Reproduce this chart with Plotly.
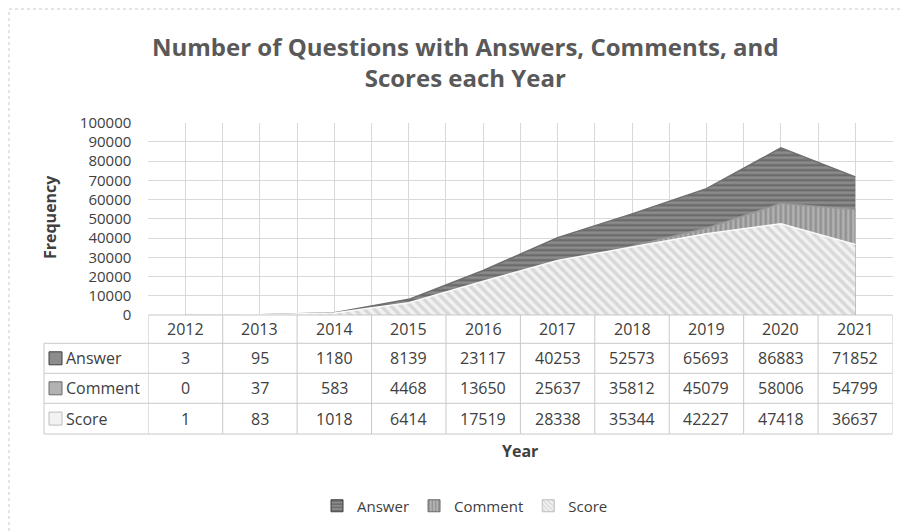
import plotly.graph_objects as go

years = ["2012", "2013", "2014", "2015", "2016", "2017", "2018", "2019", "2020", "2021"]
answer = [3, 95, 1180, 8139, 23117, 40253, 52573, 65693, 86883, 71852]
comment = [0, 37, 583, 4468, 13650, 25637, 35812, 45079, 58006, 54799]
score = [1, 83, 1018, 6414, 17519, 28338, 35344, 42227, 47418, 36637]

# name, values, pattern shape, background, stripe colour, edge colour, pattern size, solidity
series = [
    ("Answer", answer, "-", "#8c8c8c", "#3f3f3f", "#6e6e6e", 5, 0.42),
    ("Comment", comment, "|", "#b2b2b2", "#6a6a6a", "#999999", 5, 0.45),
    ("Score", score, "\\", "#f2f2f2", "#bdbdbd", "#fafafa", 7, 0.5),
]

W, H = 903, 531
FONT = "Open Sans"
TXT = "#404040"
GRID = "#d9d9d9"
LINE = "#c8c8c8"


def px_x(v):
    return v / W


def px_y(v):
    return 1 - v / H


plot_left, plot_right = 148.3, 892.5
plot_top, plot_bottom = 122.7, 315.0
row_lines = [343.3, 373.3, 403.3, 434.0]
row_centers = [358.3, 388.3, 418.6]
xs = list(range(len(years)))

fig = go.Figure()
for name, vals, shape, bg, fg, edge, psize, solid in series:
    fig.add_trace(
        go.Scatter(
            x=xs,
            y=vals,
            name=name,
            mode="lines",
            fill="tozeroy",
            line=dict(color=edge, width=1.5),
            fillcolor=bg,
            fillpattern=dict(shape=shape, bgcolor=bg, fgcolor=fg, size=psize, solidity=solid),
            hoverinfo="x+y+name",
            showlegend=False,
        )
    )
# legend keys: square patterned swatches like the spreadsheet legend
for name, vals, shape, bg, fg, edge, psize, solid in series:
    fig.add_trace(
        go.Bar(
            x=[None],
            y=[None],
            name=name,
            marker=dict(color=bg, line=dict(color=fg, width=1),
                        pattern=dict(shape=shape, bgcolor=bg, fgcolor=fg, size=4, solidity=0.4)),
        )
    )

shapes = []
# outer chart border (only top/left edges are inside the picture)
shapes.append(dict(type="rect", xref="paper", yref="paper", x0=px_x(9), x1=px_x(960),
                   y0=px_y(600), y1=px_y(9), line=dict(color=LINE, width=1, dash="dot")))
# data table grid
for yl in row_lines:
    shapes.append(dict(type="line", xref="paper", yref="paper", x0=px_x(44), x1=px_x(plot_right),
                       y0=px_y(yl), y1=px_y(yl), line=dict(color=LINE, width=1)))
shapes.append(dict(type="line", xref="paper", yref="paper", x0=px_x(44), x1=px_x(44),
                   y0=px_y(row_lines[0]), y1=px_y(row_lines[-1]), line=dict(color=LINE, width=1)))
for i in range(len(years) + 1):
    shapes.append(dict(type="line", xref="x", yref="paper", x0=i - 0.5, x1=i - 0.5,
                       y0=px_y(plot_bottom), y1=px_y(row_lines[-1]), line=dict(color=LINE, width=1)))
shapes.append(dict(type="line", xref="paper", yref="paper", x0=px_x(plot_left), x1=px_x(plot_right),
                   y0=px_y(plot_bottom), y1=px_y(plot_bottom), line=dict(color=LINE, width=1)))

cell_font = dict(family=FONT, size=16, color=TXT)
annotations = []
for i, yr in enumerate(years):
    annotations.append(dict(x=i, y=px_y((plot_bottom + row_lines[0]) / 2), xref="x", yref="paper",
                            xanchor="center", yanchor="middle", text=yr, showarrow=False, font=cell_font))
for r, (name, vals, shape, bg, fg, edge, psize, solid) in enumerate(series):
    yc = row_centers[r]
    shapes.append(dict(type="rect", xref="paper", yref="paper", x0=px_x(49), x1=px_x(62),
                       y0=px_y(yc + 6.5), y1=px_y(yc - 6.5), fillcolor=bg,
                       line=dict(color=fg, width=1)))
    annotations.append(dict(x=px_x(64), y=px_y(yc), xref="paper", yref="paper", xanchor="left",
                            yanchor="middle", text=name, showarrow=False, font=cell_font))
    for i, v in enumerate(vals):
        annotations.append(dict(x=i, y=px_y(yc), xref="x", yref="paper", xanchor="center",
                                yanchor="middle", text=str(v), showarrow=False, font=cell_font))

annotations.append(dict(x=px_x((plot_left + plot_right) / 2), y=px_y(451), xref="paper", yref="paper",
                        xanchor="center", yanchor="middle", text="<b>Year</b>", showarrow=False,
                        font=dict(family=FONT, size=16, color=TXT)))
annotations.append(dict(x=px_x(50), y=px_y(217), xref="paper", yref="paper", textangle=-90,
                        xanchor="center", yanchor="middle", text="<b>Frequency</b>", showarrow=False,
                        font=dict(family=FONT, size=16, color=TXT)))
annotations.append(dict(x=px_x(465), y=px_y(62), xref="paper", yref="paper", xanchor="center",
                        yanchor="middle",
                        text="<b>Number of Questions with Answers, Comments, and<br>Scores each Year</b>",
                        showarrow=False, font=dict(family=FONT, size=24, color="#595959")))

fig.update_layout(
    width=W,
    height=H,
    margin=dict(l=0, r=0, t=0, b=0, autoexpand=False),
    paper_bgcolor="white",
    plot_bgcolor="white",
    showlegend=True,
    legend=dict(orientation="h", xref="paper", yref="paper", x=px_x(465), y=px_y(506),
                xanchor="center", yanchor="middle", font=dict(family=FONT, size=15, color=TXT),
                itemwidth=30),
    xaxis=dict(domain=[px_x(plot_left), px_x(plot_right)], range=[-0.5, len(years) - 0.5],
               tick0=-0.5, dtick=0.5, showticklabels=False, showgrid=True, gridcolor=GRID,
               zeroline=False, showline=False, fixedrange=True),
    yaxis=dict(domain=[px_y(plot_bottom), px_y(plot_top)], range=[0, 100000], dtick=10000,
               tickformat="d", showgrid=True, gridcolor=GRID, zeroline=False, showline=False,
               tickfont=dict(family=FONT, size=15, color=TXT), ticklabelstandoff=16,
               fixedrange=True, automargin=False),
    shapes=shapes,
    annotations=annotations,
)

fig.write_html("out.html", config={"displayModeBar": False},
               post_script="document.body.style.margin = '0px';")
